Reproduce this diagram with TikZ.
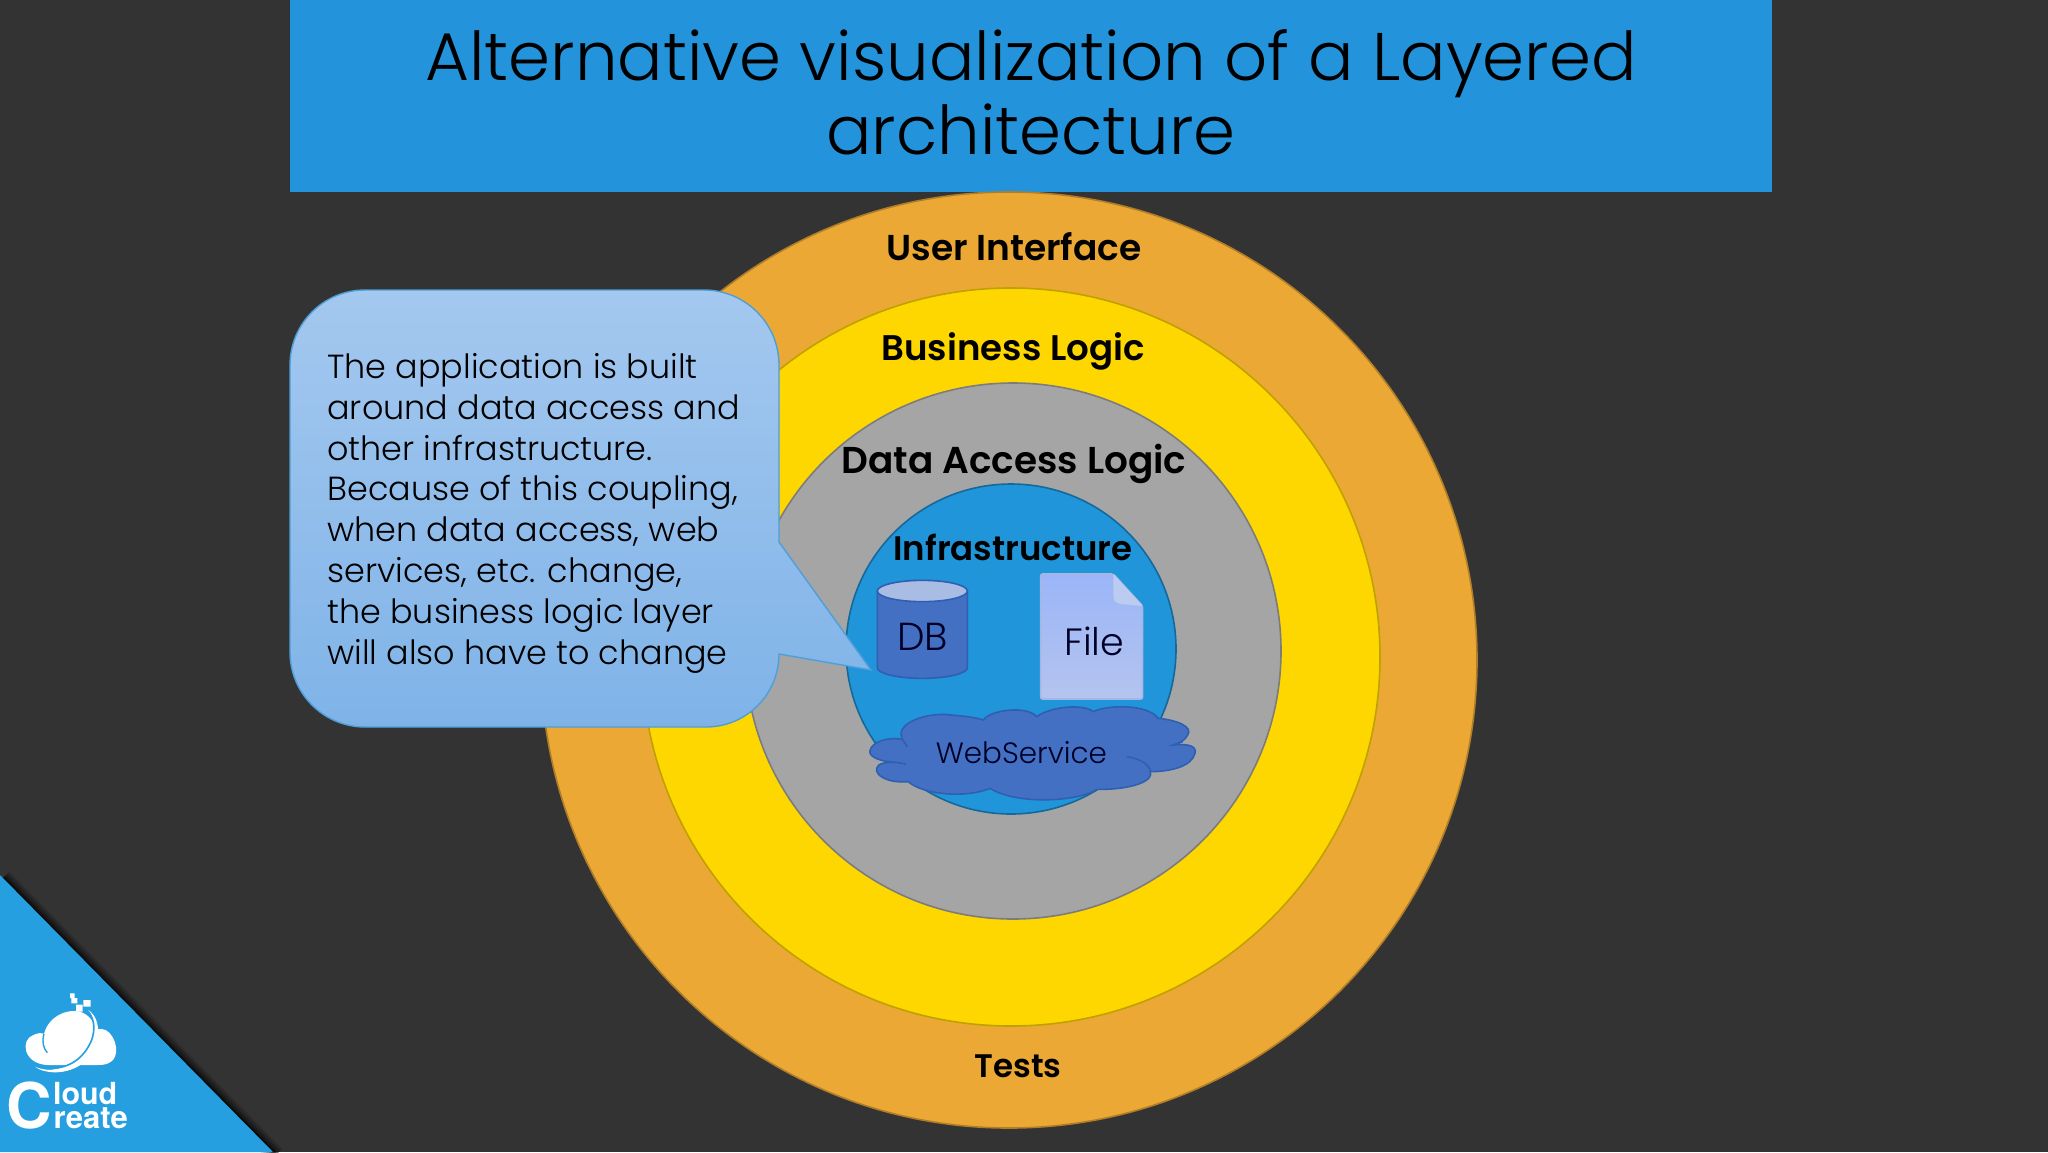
\documentclass[tikz,border=0pt]{standalone}
\usepackage{fontspec}
\setmainfont{Poppins}[UprightFont=* Light,BoldFont=* SemiBold]
\newfontfamily\logofont{TeX Gyre Heros}
\usetikzlibrary{shadings}
\definecolor{bgc}{HTML}{333333}
\definecolor{barc}{HTML}{2394DC}
\definecolor{triac}{HTML}{259FE0}
\definecolor{orangec}{HTML}{ECA835}
\definecolor{yellowc}{HTML}{FFD700}
\definecolor{grayc}{HTML}{A5A5A5}
\definecolor{bluec}{HTML}{2095DA}
\definecolor{shapec}{HTML}{4470C4}
\definecolor{shapeline}{HTML}{2F5FB0}
\definecolor{calltop}{HTML}{A4C8EF}
\definecolor{callbot}{HTML}{7FB3E8}
\definecolor{calledge}{HTML}{4E9FD8}
\definecolor{filetop}{HTML}{9BB5F8}
\definecolor{filebot}{HTML}{B4C4EE}
\definecolor{fileedge}{HTML}{A3B6E4}
\definecolor{filefold}{HTML}{BCCBF0}
\definecolor{dbtop}{HTML}{A9BCE4}
\tikzset{
  ring/.style={draw=#1!75!black,line width=0.8pt,fill=#1},
  layerlabel/.style={text=black,inner sep=0pt},
  shapetext/.style={text=black!85!blue,inner sep=0pt},
  x=0.5pt,y=-0.5pt
}
\newcommand{\labelsize}[1]{\fontsize{#1}{22}\selectfont\bfseries}
\begin{document}
\begin{tikzpicture}
\useasboundingbox (0,0) rectangle (2048,1152);
\fill[bgc] (0,0) rectangle (2048,1152);
% triangle with soft shadow
\begin{scope}
\clip (0,0) rectangle (2048,1152);
\foreach \w/\o in {18/0.12,14/0.16,10/0.22,6/0.3,3/0.4}{
  \draw[black,opacity=\o,line width=\w*0.5pt] (3,878) -- (276,1155);
}
\end{scope}
\fill[triac] (0,875) -- (273,1152) -- (0,1152) -- cycle;
% title bar
\fill[barc] (290,0) rectangle (1772,192);
\node[text=black,align=center,inner sep=0pt,font=\fontsize{33.7}{37}\selectfont] (title) at (1031,92) {Alternative visualization of a Layered\\architecture};
% rings
\draw[ring=orangec] (1009,660) circle[radius=468];
\draw[ring=yellowc] (1011,657) circle[radius=369];
\draw[ring=grayc] (1013,651) circle[radius=268];
\draw[draw=black!30!bluec,line width=0.8pt,fill=bluec] (1011,649) circle[radius=165];
\node[layerlabel,font=\labelsize{18}] (ui) at (1014,247) {User Interface};
\node[layerlabel,font=\labelsize{17.8}] (bl) at (1013,351) {Business Logic};
\node[layerlabel,font=\labelsize{18.7}] (da) at (1014,464) {Data Access Logic};
\node[layerlabel,font=\labelsize{17}] (inf) at (1013,547) {Infrastructure};
\node[layerlabel,font=\labelsize{16.3}] (ts) at (1018,1066) {Tests};
% shapes in blue circle
\begin{scope}[shift={(820,520)},scale=1/3]
  % DB
  \draw[shapeline,line width=0.8pt,fill=shapec] (172,213) -- (172,443) arc[x radius=135,y radius=32,start angle=180,end angle=0] -- (442,213) -- cycle;
  \draw[shapeline,line width=0.8pt,fill=dbtop] (307,213) circle[x radius=135,y radius=32];
  \node[shapetext,font=\fontsize{19.5}{22}\selectfont] (db) at (308,350) {DB};
  % File
  \shade[top color=filetop,bottom color=filebot,rounded corners=1pt] (662,162) -- (880,162) -- (968,258) -- (968,537) -- (662,537) -- cycle;
  \draw[fileedge,line width=0.8pt,rounded corners=1pt] (662,162) -- (880,162) -- (968,258) -- (968,537) -- (662,537) -- cycle;
  \fill[filefold] (880,162) -- (968,258) -- (905,252) .. controls (885,250) and (880,240) .. (880,225) -- cycle;
  \node[shapetext,font=\fontsize{19}{22}\selectfont] (file) at (823,365) {File};
  % Cloud
  \draw[shapeline,line width=0.8pt,fill=shapec] (245,650)
    .. controls (230,610) and (320,575) .. (395,585)
    .. controls (420,588) and (460,590) .. (490,600)
    .. controls (510,570) and (620,555) .. (650,590)
    .. controls (690,560) and (790,550) .. (820,575)
    .. controls (860,555) and (980,550) .. (1015,595)
    .. controls (1070,600) and (1120,620) .. (1103,645)
    .. controls (1095,660) and (1080,670) .. (1060,675)
    .. controls (1110,670) and (1130,680) .. (1125,700)
    .. controls (1115,740) and (1050,755) .. (990,755)
    .. controls (1005,780) and (940,810) .. (830,808)
    .. controls (790,840) and (600,860) .. (510,805)
    .. controls (440,835) and (310,825) .. (265,785)
    .. controls (200,790) and (165,765) .. (170,745)
    .. controls (172,730) and (200,725) .. (228,727)
    .. controls (180,725) and (145,710) .. (150,692)
    .. controls (155,665) and (205,650) .. (245,658)
    -- cycle;
  \draw[shapeline,line width=0.8pt] (920,710) .. controls (960,715) and (990,735) .. (992,755);
  \draw[shapeline,line width=0.8pt] (1060,675) -- (1088,665);
  \draw[shapeline,line width=0.8pt] (228,727) -- (258,732);
  \draw[shapeline,line width=0.8pt] (245,655) -- (262,680);
  \node[shapetext,font=\fontsize{14.7}{17}\selectfont] (ws) at (604,697) {WebService};
\end{scope}
% callout
\shade[top color=calltop,bottom color=callbot,draw=calledge,line width=0.7pt]
  (365,290) -- (704,290) arc[radius=75,start angle=-90,end angle=0] -- (779,542) -- (871,670) -- (779,654) arc[radius=73,start angle=0,end angle=90] -- (365,727) arc[radius=75,start angle=90,end angle=180] -- (290,365) arc[radius=75,start angle=180,end angle=270] -- cycle;
\node[anchor=north west,align=left,inner sep=0pt,text=black,font=\fontsize{16.7}{20.4}\selectfont] (note) at (327,353) {The application is built\\around data access and\\other infrastructure.\\Because of this coupling,\\when data access, web\\services, etc. change,\\the business logic layer\\will also have to change};
% logo
\begin{scope}[shift={(0,860)},scale=1/3]
  \fill[white] (210,400) rectangle (224,414) (214,414) rectangle (232,430);
  \fill[white] (250,420) rectangle (272,440) (228,434) rectangle (248,455);
  \fill[white] (140,615) .. controls (70,610) and (60,540) .. (100,525) .. controls (115,518) and (125,518) .. (132,522)
    .. controls (145,470) and (200,445) .. (240,455) .. controls (270,465) and (285,490) .. (288,510)
    .. controls (330,490) and (360,560) .. (345,590) .. controls (335,612) and (315,615) .. (290,615) -- cycle;
  \fill[white] (105,620) .. controls (130,640) and (200,650) .. (255,605) .. controls (300,560) and (310,480) .. (265,450) .. controls (295,490) and (285,550) .. (240,590) .. controls (200,625) and (150,640) .. (105,620) -- cycle;
  \draw[triac,line width=0.7pt] (132,522) .. controls (125,545) and (130,565) .. (142,578);
  \draw[triac,line width=0.8pt] (135,625) .. controls (200,630) and (250,600) .. (275,540) .. controls (285,510) and (285,480) .. (265,455);
  \node[anchor=base west,inner sep=0pt,text=white,font=\logofont\fontsize{31.5}{32}\selectfont\bfseries] (bigc) at (18,805) {C};
  \node[anchor=base west,inner sep=0pt,text=white,font=\logofont\fontsize{15.2}{18}\selectfont\bfseries] (lo) at (158,732) {loud};
  \node[anchor=base west,inner sep=0pt,text=white,font=\logofont\fontsize{15.5}{18}\selectfont\bfseries] (re) at (160,805) {reate};
\end{scope}
\end{tikzpicture}
\end{document}
